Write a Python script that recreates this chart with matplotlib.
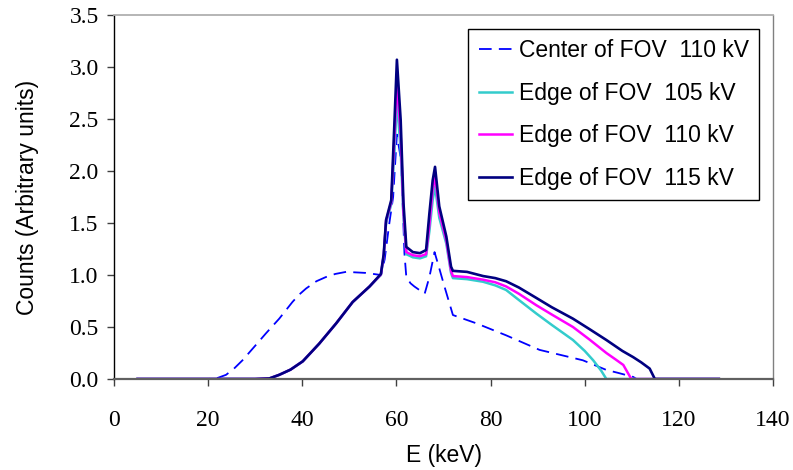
import numpy as np
import matplotlib
matplotlib.use("Agg")
import matplotlib.pyplot as plt
from matplotlib.font_manager import FontProperties

# Center of FOV, 110 kV (dashed)
e_center = [5, 20, 22, 23.8, 25.5, 27.3, 30, 32.3, 35.1, 36.5, 37.9, 39.3, 40.8, 43, 45,
            47, 49.3, 53.5, 56.7, 57.5, 58.5, 59.3, 60.1, 61.0, 61.7, 62.1, 63,
            63.8, 66, 67, 68.1, 69, 70.2, 72, 77, 83.3, 90.4, 95, 99.6, 104.6, 107,
            110.3, 111, 128.5]
c_center = [0, 0, 0.01, 0.04, 0.1, 0.18, 0.32, 0.44, 0.58, 0.66, 0.74, 0.81, 0.87, 0.94, 0.98,
            1.01, 1.03, 1.02, 1.0, 1.15, 1.5, 1.75, 2.35, 2.1, 1.21, 0.98, 0.92,
            0.89, 0.82, 0.98, 1.22, 1.08, 0.89, 0.615, 0.535, 0.42, 0.28, 0.23, 0.18, 0.087, 0.06,
            0.02, 0.0, 0.0]

# Edge of FOV, 105 kV
e_105 = [5, 30, 33, 35.1, 37.5, 40.1, 43.6, 47.2, 50.7, 54.3, 56.7, 57.3, 57.8, 58.9, 59.6,
         60.1, 60.9, 61.5, 62.1, 63.5, 65, 66.3, 67, 67.7, 68.2, 69.1, 70.6, 71.6, 72,
         75, 78.4, 81, 83.3, 86, 89.7, 93, 97.5, 100, 101.8, 103.5, 104.6, 128.5]
c_105 = [0, 0, 0.005, 0.04, 0.09, 0.17, 0.34, 0.535, 0.74, 0.89, 1.0, 1.18, 1.5, 1.68, 2.2,
         2.68, 2.2, 1.55, 1.2, 1.17, 1.16, 1.18, 1.42, 1.72, 1.85, 1.55, 1.3, 1.02, 0.97,
         0.96, 0.935, 0.9, 0.856, 0.76, 0.63, 0.52, 0.375, 0.27, 0.18, 0.08, 0.0, 0.0]

# Edge of FOV, 110 kV
e_110 = [5, 30, 33, 35.1, 37.5, 40.1, 43.6, 47.2, 50.7, 54.3, 56.7, 57.3, 57.8, 58.9, 59.6,
         60.1, 60.9, 61.5, 62.1, 63.5, 65, 66.3, 67, 67.7, 68.2, 69.1, 70.6, 71.6, 72,
         75, 78.4, 81, 83.3, 86, 89.7, 93, 97.5, 101, 104.6, 106.5, 108.2, 109.9, 128.5]
c_110 = [0, 0, 0.005, 0.04, 0.09, 0.17, 0.34, 0.535, 0.74, 0.89, 1.005, 1.19, 1.52, 1.7, 2.35,
         2.86, 2.35, 1.6, 1.22, 1.19, 1.18, 1.2, 1.48, 1.82, 1.95, 1.6, 1.33, 1.04, 0.99,
         0.98, 0.955, 0.93, 0.89, 0.82, 0.71, 0.62, 0.50, 0.38, 0.25, 0.19, 0.135, 0.0, 0.0]

# Edge of FOV, 115 kV
e_115 = [5, 30, 33, 35.1, 37.5, 40.1, 43.6, 47.2, 50.7, 54.3, 56.7, 57.3, 57.8, 58.9, 59.6,
         60.1, 60.9, 61.5, 62.1, 63.5, 65, 66.3, 67, 67.7, 68.2, 69.1, 70.6, 71.6, 72,
         75, 78.4, 81, 83.3, 86, 89.7, 93, 97.5, 101, 104.6, 108, 110.3, 112, 113.8, 114.9, 128.5]
c_115 = [0, 0, 0.005, 0.04, 0.09, 0.17, 0.34, 0.535, 0.74, 0.89, 1.01, 1.2, 1.53, 1.72, 2.49,
         3.07, 2.49, 1.69, 1.27, 1.22, 1.21, 1.24, 1.59, 1.91, 2.04, 1.66, 1.37, 1.08, 1.04,
         1.03, 0.99, 0.97, 0.94, 0.88, 0.78, 0.69, 0.58, 0.48, 0.375, 0.27, 0.21, 0.16, 0.10, 0.0, 0.0]

labels = ["Center of FOV  110 kV", "Edge of FOV  105 kV",
          "Edge of FOV  110 kV", "Edge of FOV  115 kV"]

x_ticks = np.arange(0, 141, 20)
y_ticks = np.arange(0, 3.51, 0.5)

fig = plt.figure(figsize=(7.93, 4.70), dpi=100)
ax = fig.add_axes([114 / 793, 91 / 470, 659 / 793, 364 / 470])

ax.plot(e_center, c_center, color="#0000FF", lw=1.3, dashes=(7, 4), label=labels[0])
ax.plot(e_105, c_105, color="#33CCCC", lw=1.8, label=labels[1])
ax.plot(e_110, c_110, color="#FF00FF", lw=1.8, label=labels[2])
ax.plot(e_115, c_115, color="#000080", lw=1.9, label=labels[3])

ax.set_xlim(0, 140)
ax.set_ylim(0, 3.5)
ax.set_xticks(x_ticks)
ax.set_yticks(y_ticks)
ax.set_yticklabels([f"{v:.1f}" for v in y_ticks])

tick_font = FontProperties(family="Liberation Serif", size=17)
for lab in ax.get_xticklabels() + ax.get_yticklabels():
    lab.set_fontproperties(tick_font)
ax.tick_params(direction="out", length=5, width=1, colors="#404040", labelcolor="black")
ax.tick_params(axis="x", pad=17)
ax.tick_params(axis="y", pad=6)

ax.spines["left"].set_color("black")
ax.spines["left"].set_linewidth(1)
ax.spines["bottom"].set_color("#606060")
ax.spines["bottom"].set_linewidth(1.6)
ax.spines["top"].set_color("#b0b0b0")
ax.spines["top"].set_linewidth(1.3)
ax.spines["right"].set_color("#808080")
ax.spines["right"].set_linewidth(1)

ax.set_xlabel("E (keV)", family="Liberation Sans", fontsize=16.5, labelpad=10)
ax.set_ylabel("Counts (Arbitrary units)", family="Liberation Sans", fontsize=16.5, labelpad=22)

leg = ax.legend(loc="upper right", bbox_to_anchor=(0.979, 0.9615),
                prop={"family": "Liberation Sans", "size": 16.5},
                handlelength=1.45, handletextpad=0.3, labelspacing=0.85,
                borderpad=0.45, borderaxespad=0, fancybox=False, framealpha=1)
leg.get_frame().set_edgecolor("black")
leg.get_frame().set_linewidth(1)

fig.savefig("out.png", dpi=100)
